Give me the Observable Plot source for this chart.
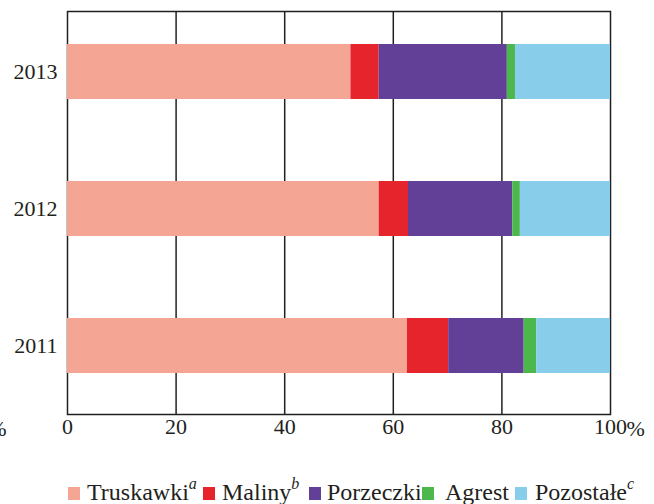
<!DOCTYPE html>
<html>
<head>
<meta charset="utf-8">
<script src="https://cdn.jsdelivr.net/npm/d3@7"></script>
<script src="https://cdn.jsdelivr.net/npm/@observablehq/plot@0.6"></script>
<style>
  html, body { margin: 0; padding: 0; background: #fff; }
  body { width: 654px; height: 504px; overflow: hidden; position: relative; font-family: "Liberation Serif", "Times New Roman", serif; color: #231f20; }
  #chart svg { display: block; }
  #legend { position: absolute; left: 0; top: 0; width: 654px; height: 504px; font-size: 24px; line-height: 24px; white-space: nowrap; pointer-events: none; }
  #legend .item { position: absolute; top: 479.5px; display: flex; align-items: baseline; }
  #legend .sw { display: inline-block; width: 12px; height: 13px; margin-right: 7px; }
  #legend sup { font-style: italic; font-size: 16px; line-height: 0; vertical-align: 0; position: relative; top: -11px; margin-left: 0; }
</style>
</head>
<body>
<div id="chart"></div>
<div id="legend"></div>
<script>
const years = ["2013", "2012", "2011"];
const categories = ["Truskawki", "Maliny", "Porzeczki", "Agrest", "Pozostałe"];
const superscripts = ["a", "b", "", "", "c"];
const colors = ["#f4a594", "#e5242b", "#634097", "#4cb84c", "#88cdea"];
const truskawki = [52.2, 57.4, 62.6];
const maliny = [5.2, 5.4, 7.6];
const porzeczki = [23.6, 19.2, 13.9];
const agrest = [1.5, 1.4, 2.3];
const pozostale = [17.5, 16.6, 13.6];
const xTicks = [0, 20, 40, 60, 80, 100];
const gridTicks = [20, 40, 60, 80];

const series = [truskawki, maliny, porzeczki, agrest, pozostale];
const data = [];
years.forEach((y, i) => {
  categories.forEach((c, j) => {
    data.push({ year: y, category: c, value: series[j][i] });
  });
});

const ink = "#231f20";
const plot = Plot.plot({
  width: 654,
  height: 445,
  marginLeft: 67,
  marginRight: 44,
  marginTop: 11,
  marginBottom: 31,
  style: { fontFamily: "Liberation Serif, Times New Roman, serif", background: "#fff", overflow: "visible" },
  x: { domain: [0, 100], ticks: xTicks, label: null },
  y: { domain: years, paddingInner: 0.6, paddingOuter: 0.27, align: 0.445, label: null },
  color: { domain: categories, range: colors },
  marks: [
    Plot.ruleX(gridTicks, { stroke: ink, strokeWidth: 1.5 }),
    Plot.frame({ stroke: ink, strokeWidth: 1.5 }),
    Plot.barX(data, Plot.stackX({ y: "year", x: "value", fill: "category", order: null })),
    Plot.axisX({ ticks: xTicks, tickSize: 0, tickPadding: 4, fontSize: 22, fill: ink,
      tickFormat: d => String(d), label: null }),
    Plot.text([100], { x: d => d, frameAnchor: "bottom", text: () => "%", textAnchor: "start", lineAnchor: "top", dx: 16, dy: 6, fontSize: 22, fill: ink }),
    Plot.axisY({ tickSize: 0, tickPadding: 10, fontSize: 22, fill: ink, label: null }),
    Plot.text(["%"], { frameAnchor: "bottom-left", dx: -61, dy: 6, textAnchor: "end", lineAnchor: "top", fontSize: 22, fill: ink })
  ]
});
document.getElementById("chart").appendChild(plot);

const legendLeft = [68, 203, 309, 422, 515];
const swatchGap = [7, 7, 6, 11, 8];
const legend = document.getElementById("legend");
categories.forEach((c, j) => {
  const item = document.createElement("span");
  item.className = "item";
  item.style.left = legendLeft[j] + "px";
  const sw = document.createElement("span");
  sw.className = "sw";
  sw.style.background = colors[j];
  sw.style.marginRight = swatchGap[j] + "px";
  item.appendChild(sw);
  const t = document.createElement("span");
  t.textContent = c;
  item.appendChild(t);
  if (superscripts[j]) {
    const s = document.createElement("sup");
    s.textContent = superscripts[j];
    item.appendChild(s);
  }
  legend.appendChild(item);
});
</script>
</body>
</html>
